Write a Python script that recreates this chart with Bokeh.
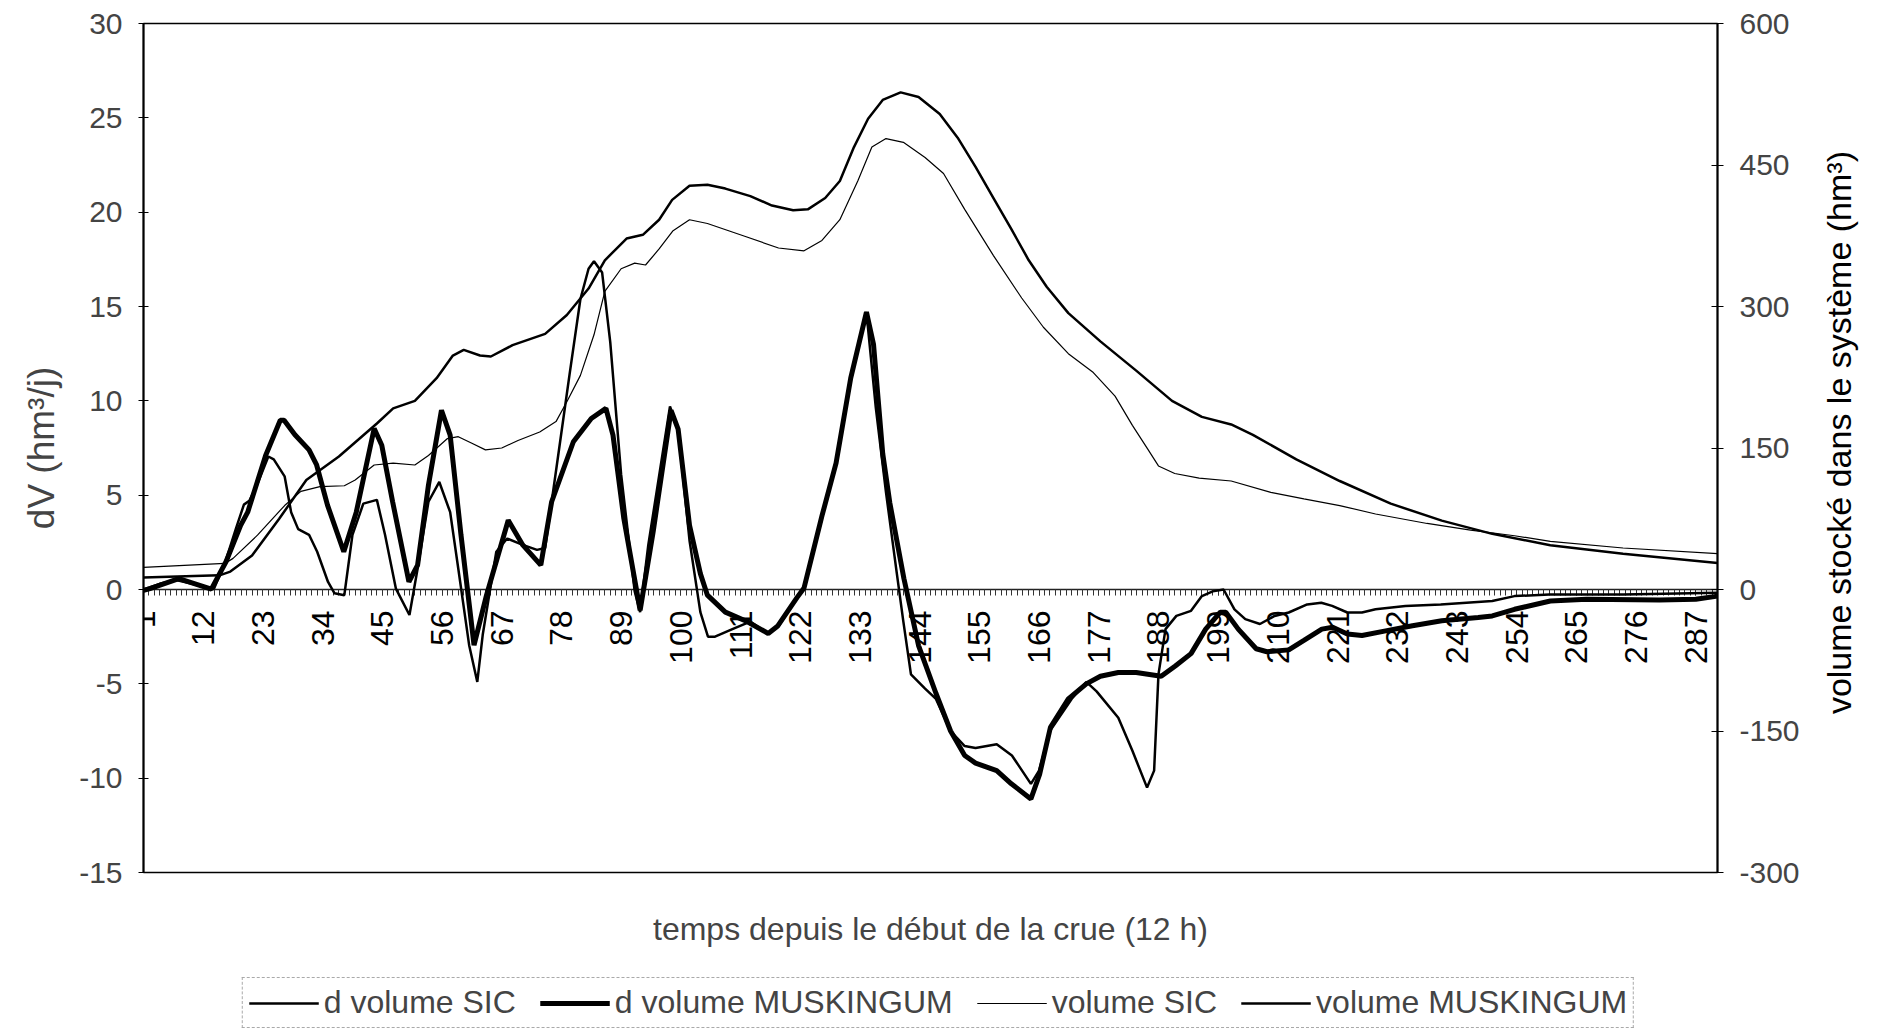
import math
from bokeh.plotting import figure
from bokeh.layouts import column, row
from bokeh.models import (Range1d, LinearAxis, FixedTicker, Legend, LegendItem, Label)
from bokeh.embed import file_html
from bokeh.resources import INLINE

# ---------------- data ----------------
x_ticks = [1, 12, 23, 34, 45, 56, 67, 78, 89, 100, 111, 122, 133, 144, 155, 166,
           177, 188, 199, 210, 221, 232, 243, 254, 265, 276, 287]
x_minor = list(range(1, 292))
y_left_ticks = [-15, -10, -5, 0, 5, 10, 15, 20, 25, 30]
y_right_ticks = [-300, -150, 0, 150, 300, 450, 600]

# d volume SIC (hm3/j)
dsic_t = [1, 4, 7, 10, 13, 14, 16, 18, 19.5, 20.5, 22, 24, 25, 27, 28.2, 29.5, 31.5, 33, 35, 36.2,
          38, 39.5, 41.5, 44, 45.5, 47.5, 50, 51.5, 53.5, 55.5, 57.5, 59, 61, 62.5, 63.5, 66, 68, 71,
          73.5, 75, 77.5, 79.5, 81.5, 83, 84, 85.5, 87, 89, 91.5, 92.5, 94, 98, 99.5, 101.6, 103.6,
          105, 106.3, 109.5, 112.8, 116, 118, 121.4, 122.7, 126, 128.6, 131.3, 134.2, 135.9, 137.8,
          139.8, 141, 142.4, 145, 147, 149.7, 152.3, 154.3, 158.2, 161, 164.5, 166, 168, 172, 174.7,
          176.6, 180.6, 183.2, 185.9, 187.2, 188, 189.3, 191.3, 194, 196, 198, 200, 202, 204, 206.7,
          209.4, 212, 215.4, 218, 220, 222.8, 225.5, 228, 233.5, 240, 249.5, 253.6, 260, 273.6, 291]
dsic_v = [0.0, 0.3, 0.5, 0.3, 0.05, 0.05, 1.4, 3.2, 4.5, 4.7, 5.6, 7.05, 6.9, 6.0, 4.1, 3.2, 2.9,
          2.0, 0.4, -0.2, -0.3, 2.9, 4.55, 4.75, 2.9, 0.05, -1.35, 1.1, 4.65, 5.7, 4.1, 1.1, -2.95,
          -4.9, -2.4, 2.0, 2.7, 2.35, 2.1, 2.2, 7.3, 11.4, 15.4, 17.0, 17.4, 16.8, 13.1, 6.1, -0.1,
          -1.2, 2.35, 9.7, 8.5, 2.6, -1.2, -2.5, -2.5, -2.1, -1.7, -2.33, -1.95, -0.43, 0.08, 3.9,
          6.7, 11.2, 14.7, 9.7, 5.15, 0.84, -1.7, -4.5, -5.25, -5.8, -7.5, -8.3, -8.4, -8.2, -8.8,
          -10.3, -9.6, -7.5, -5.8, -4.9, -5.4, -6.8, -8.55, -10.5, -9.6, -4.5, -2.1, -1.4, -1.13,
          -0.35, -0.1, 0.0, -1.05, -1.57, -1.83, -1.4, -1.22, -0.79, -0.7, -0.87, -1.22, -1.22,
          -1.05, -0.87, -0.79, -0.61, -0.35, -0.26, -0.26, -0.17]

# d volume MUSKINGUM (hm3/j)
dmus_t = [1, 2.2, 7.5, 13.5, 16.2, 18.9, 20.2, 23.5, 26.2, 26.9, 28.9, 31.5, 32.9, 34.9, 37.9,
          40.2, 43.5, 44.9, 46.9, 49.9, 51.5, 53.5, 55.9, 57.5, 59.5, 61.9, 64.2, 68.2, 70.9, 74.2,
          76.2, 80.2, 83.5, 86.2, 87.5, 89.5, 92.5, 94.9, 98.2, 99.5, 101.6, 103.6, 104.9, 108.2,
          112.2, 116.1, 117.8, 121.4, 122.7, 126, 128.6, 131.3, 134.2, 135.5, 137.2, 138.5, 141.1,
          143.8, 147, 149.7, 152.3, 154.3, 158.2, 160.9, 164.5, 166.1, 168.1, 171.4, 174.7, 177.3,
          180.6, 183.9, 188.5, 191.1, 194, 196.7, 199.4, 200.4, 202.7, 206, 208, 212, 214.8, 218.1,
          220.1, 222.8, 225.5, 230.1, 234.8, 240.2, 246.9, 249.5, 253.6, 260.2, 266.9, 280.3, 287, 291]
dmus_v = [-0.05, 0.05, 0.58, 0.02, 1.47, 3.4, 4.1, 7.1, 8.97, 8.97, 8.2, 7.4, 6.6, 4.47, 2.0, 4.1,
          8.53, 7.65, 4.65, 0.41, 1.29, 5.53, 9.5, 8.18, 2.88, -2.95, -0.3, 3.67, 2.35, 1.29, 4.65,
          7.83, 9.06, 9.6, 8.18, 3.76, -1.1, 3.06, 9.5, 8.5, 3.4, 0.84, -0.3, -1.2, -1.7, -2.33,
          -1.95, -0.43, 0.08, 3.9, 6.7, 11.2, 14.7, 13.0, 7.2, 4.6, 0.58, -2.97, -5.5, -7.5, -8.8,
          -9.2, -9.6, -10.3, -11.1, -9.8, -7.3, -5.8, -5.0, -4.6, -4.4, -4.4, -4.6, -4.05, -3.4,
          -2.1, -1.2, -1.2, -2.1, -3.14, -3.3, -3.2, -2.7, -2.1, -2.0, -2.36, -2.44, -2.18, -1.92,
          -1.66, -1.48, -1.4, -1.05, -0.61, -0.52, -0.56, -0.52, -0.35]

# volume SIC (hm3)
vsic_t = [1, 16, 17.5, 22, 27, 30, 33.5, 38, 40, 43.5, 47, 51, 53.5, 57, 59, 61.5, 64, 67, 70, 74,
          77, 79, 81.5, 84, 86, 89, 91.5, 93.5, 96, 98.5, 101.6, 104.9, 111.5, 118, 122.7, 126,
          129.3, 132.6, 135.2, 137.8, 141, 145, 148.4, 152.3, 157.6, 162.8, 166.8, 171.4, 176, 180,
          183.2, 186, 188, 191, 195.5, 201.4, 208.7, 214.8, 221.4, 228, 237.5, 245.5, 253.6, 260.2,
          273.6, 291]
vsic_v = [23.4, 27.6, 33, 57.6, 89, 104, 109, 110, 116, 132, 134, 132, 142, 160, 162, 155, 148, 150,
          158, 167, 178, 199, 227, 270, 316, 340, 346, 344, 361, 380, 392, 388, 375, 362, 359, 370,
          392, 433, 469, 478, 474, 458, 441, 403, 354, 309, 278, 250, 230, 205, 174, 149, 131, 123,
          118, 115, 103, 96, 89, 80, 70, 63, 57, 51, 44, 38]

# volume MUSKINGUM (hm3)
vmus_t = [1, 15, 17, 21, 26, 31, 37, 44, 47, 51, 55, 58, 60, 63, 65, 69, 75, 79, 83, 86, 90, 93, 96,
          98.4, 101.6, 104.9, 108.2, 112.8, 116.8, 120.7, 123.4, 126.6, 129.3, 131.9, 134.5, 137.2,
          140.5, 143.8, 147.7, 151, 154.3, 157.6, 160.9, 164.1, 167.4, 171.4, 177.3, 183.9, 190.5,
          196, 201.4, 205.4, 213.4, 221.4, 230.8, 240.2, 249.5, 260.2, 273.6, 291]
vmus_v = [12.7, 15, 19, 36, 75, 116, 141, 176, 192, 200, 224, 248, 254, 248, 247, 259, 271, 291, 319,
          349, 372, 376, 392, 413, 428, 429, 425, 417, 407, 402, 403, 415, 433, 469, 499, 519, 527,
          522, 504, 479, 448, 415, 382, 349, 321, 293, 263, 232, 200, 183, 175, 164, 138, 115, 91,
          73, 59, 47, 38, 28]

labels = ["d volume SIC", "d volume MUSKINGUM", "volume SIC", "volume MUSKINGUM"]
series = [(dsic_t, dsic_v), (dmus_t, dmus_v), (vsic_t, vsic_v), (vmus_t, vmus_v)]
widths = [2.5, 5, 1.2, 2.5]

FONT = "Liberation Sans"
W = 1876
FW, FH = 1574, 849
LEFT, TOP, RIGHT, BOTTOM = 143, 23, 92, 90
PW = LEFT + FW + RIGHT          # width of the main figure
PH = TOP + FH + BOTTOM          # height of the main figure
TW = W - PW                     # strip holding the right-hand title
LH = 72                         # strip holding the legend

p = figure(frame_width=FW, frame_height=FH, output_backend="svg", toolbar_location=None,
           x_range=Range1d(1, 291), y_range=Range1d(-15, 30),
           min_border_left=LEFT, min_border_right=RIGHT, min_border_top=TOP,
           min_border_bottom=BOTTOM,
           background_fill_color="white", border_fill_color="white")
p.extra_y_ranges = {"vol": Range1d(-300, 600)}
p.xgrid.visible = False
p.ygrid.visible = False
p.outline_line_color = "black"
p.outline_line_width = 1.5

# x axis crossing at y = 0
xa = p.xaxis[0]
xa.fixed_location = 0
xa.ticker = FixedTicker(ticks=x_ticks, minor_ticks=x_minor)
xa.major_label_orientation = math.pi / 2
xa.major_label_text_font = FONT
xa.major_label_text_font_size = "32px"
xa.major_label_text_color = "black"
xa.major_label_standoff = 15
xa.major_tick_in = 0
xa.major_tick_out = 6
xa.minor_tick_in = 0
xa.minor_tick_out = 6
xa.major_tick_line_color = "#333333"
xa.minor_tick_line_color = "#333333"
xa.axis_line_color = "#222222"
xa.axis_line_width = 1.5
xa.level = "underlay"

# hidden bottom axis that only carries the x title
xb = LinearAxis(ticker=FixedTicker(ticks=[]), axis_label="temps depuis le début de la crue (12 h)")
xb.axis_line_color = None
xb.major_tick_line_color = None
xb.minor_tick_line_color = None
xb.major_tick_out = 0
xb.major_tick_in = 0
xb.major_label_standoff = 0
xb.major_label_text_font_size = "0px"
xb.axis_label_text_font = FONT
xb.axis_label_text_font_size = "32px"
xb.axis_label_text_font_style = "normal"
xb.axis_label_standoff = 38
p.add_layout(xb, "below")

# left axis
ya = p.yaxis[0]
ya.ticker = FixedTicker(ticks=y_left_ticks)
ya.major_label_overrides = {-15: "-15", -10: "-10", -5: "-5"}
ya.axis_label = "dV (hm³/j)"
ya.axis_label_text_font = FONT
ya.axis_label_text_font_size = "37px"
ya.axis_label_text_font_style = "normal"
ya.axis_label_standoff = 14
ya.major_label_text_font = FONT
ya.major_label_text_font_size = "30px"
ya.major_label_standoff = 16
ya.major_tick_in = 5
ya.major_tick_out = 5
ya.minor_tick_line_color = None
ya.axis_line_color = "black"
ya.axis_line_width = 2

# right axis
yr = LinearAxis(y_range_name="vol", ticker=FixedTicker(ticks=y_right_ticks))
yr.major_label_overrides = {-300: "-300", -150: "-150"}
yr.major_label_text_font = FONT
yr.major_label_text_font_size = "30px"
yr.major_label_standoff = 16
yr.major_tick_in = 6
yr.major_tick_out = 6
yr.minor_tick_line_color = None
yr.axis_line_color = "black"
yr.axis_line_width = 2
p.add_layout(yr, "right")

renderers = []
for (t, v), w, lab in zip(series, widths, labels):
    kw = {"y_range_name": "vol"} if lab.startswith("volume") else {}
    renderers.append(p.line(t, v, line_color="black", line_width=w, **kw))

# ---------- strip at the right with the right-axis title (reads bottom-to-top) ----------
p3 = figure(width=TW, height=PH, output_backend="svg", toolbar_location=None,
            x_axis_location=None, y_axis_location=None,
            x_range=Range1d(0, TW), y_range=Range1d(0, PH),
            min_border_left=0, min_border_right=0, min_border_top=0, min_border_bottom=0,
            background_fill_color="white", border_fill_color="white")
p3.xgrid.visible = False
p3.ygrid.visible = False
p3.outline_line_color = None
p3.add_layout(Label(x=29, y=PH - TOP - FH / 2 - 16, text="volume stocké dans le système (hm³)",
                    angle=math.pi / 2, text_align="center", text_baseline="middle",
                    text_font=FONT, text_font_size="34px", text_color="#000000"))

# ---------- legend strip (same series, drawn out of view; only the legend shows) ----------
p2 = figure(width=W, height=LH, output_backend="svg", toolbar_location=None,
            x_axis_location=None, y_axis_location=None,
            x_range=Range1d(1, 291), y_range=Range1d(5000, 5001),
            min_border_left=0, min_border_right=0, min_border_top=0, min_border_bottom=0,
            background_fill_color="white", border_fill_color="white")
p2.xgrid.visible = False
p2.ygrid.visible = False
p2.outline_line_color = None
leg_renderers = [p2.line(t, v, line_color="black", line_width=w) for (t, v), w in zip(series, widths)]

legend = Legend(items=[LegendItem(label=lab, renderers=[r]) for lab, r in zip(labels, leg_renderers)],
                orientation="horizontal", location="bottom_center")
legend.label_text_font = FONT
legend.label_text_font_size = "32px"
legend.label_height = 30
legend.glyph_width = 70
legend.glyph_height = 30
legend.label_standoff = 5
legend.spacing = 24
legend.padding = 6
legend.margin = 6
legend.border_line_color = "#555555"
legend.border_line_width = 1
legend.border_line_dash = "8 4"
legend.background_fill_alpha = 0
p2.add_layout(legend)

open("out.html", "w").write(file_html(column(row(p, p3), p2), INLINE))
